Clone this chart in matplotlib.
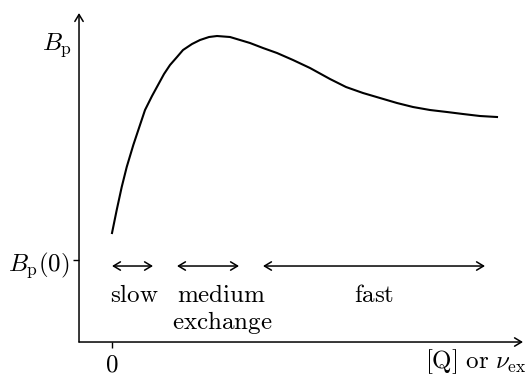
import numpy as np
import matplotlib
matplotlib.use("Agg")
import matplotlib.pyplot as plt

plt.rcParams['mathtext.fontset'] = 'cm'
plt.rcParams['font.family'] = 'serif'
plt.rcParams['font.serif'] = ['DejaVu Serif']

# curve (x: exchange rate, y: Bp)
curve_x = [0.00, 0.047, 0.097, 0.147, 0.213, 0.263, 0.33, 0.40, 0.46, 0.52, 0.58, 0.65,
           0.71, 0.80, 0.88, 0.97, 1.05, 1.18, 1.28, 1.38, 1.51, 1.65, 1.81, 1.98,
           2.18, 2.34, 2.51, 2.68, 2.85, 3.01, 3.18, 3.35, 3.51, 3.68, 3.85]
curve_y = [0.27, 0.50, 0.73, 0.93, 1.15, 1.30, 1.50, 1.64, 1.75, 1.86, 1.95, 2.03,
           2.10, 2.16, 2.20, 2.23, 2.24, 2.23, 2.20, 2.17, 2.12, 2.07, 2.00, 1.92,
           1.81, 1.73, 1.67, 1.62, 1.57, 1.53, 1.50, 1.48, 1.46, 1.44, 1.43]

# exchange regimes: (start, end, label, label centre)
regimes = [
    (0.00, 0.41, r'$\mathrm{slow}$', 0.22),
    (0.65, 1.27, r'$\mathrm{medium}$', 1.10),
    (1.51, 3.73, r'$\mathrm{fast}$', 2.62),
]

fig = plt.figure(figsize=(5.25, 3.77), dpi=100)
ax = fig.add_axes([0.1505, 0.0928, 0.8457, 0.8727])
ax.set_xlim(-0.33, 4.11)
ax.set_ylim(-0.82, 2.47)

ax.plot(curve_x, curve_y, color='black', lw=1.5, solid_joinstyle='round')

for spine in ax.spines.values():
    spine.set_visible(False)

# axis arrows
ax.annotate('', xy=(0, 1), xytext=(0, 0), xycoords='axes fraction',
            arrowprops=dict(arrowstyle='->,head_length=0.5,head_width=0.3',
                            lw=1.1, color='black', shrinkA=0, shrinkB=0))
ax.annotate('', xy=(1, 0), xytext=(0, 0), xycoords='axes fraction',
            arrowprops=dict(arrowstyle='->,head_length=0.5,head_width=0.3',
                            lw=1.1, color='black', shrinkA=0, shrinkB=0))

ax.set_xticks([0])
ax.set_xticklabels([r'$0$'], fontsize=18)
ax.set_yticks([0])
ax.set_yticklabels([r'$B_\mathrm{p}(0)$'], fontsize=18)
ax.tick_params(axis='both', direction='out', length=4, width=1.0)
ax.tick_params(axis='x', pad=4)
ax.tick_params(axis='y', pad=3)

# regime arrows and labels
for start, end, label, xc in regimes:
    ax.annotate('', xy=(end, -0.06), xytext=(start, -0.06),
                arrowprops=dict(arrowstyle='<->,head_length=0.5,head_width=0.3',
                                lw=1.1, color='black', shrinkA=0, shrinkB=0))
    ax.text(xc, -0.35, label, fontsize=18, ha='center', va='center')
ax.text(1.10, -0.62, r'$\mathrm{exchange}$', fontsize=18, ha='center', va='center')

ax.text(-0.70, 2.15, r'$B_\mathrm{p}$', fontsize=18, ha='left', va='center')
ax.text(3.13, -1.02, r'$[\mathrm{Q}]\ \mathrm{or}\ \nu_\mathrm{ex}$', fontsize=18,
        ha='left', va='center', clip_on=False)

fig.savefig('out.png', dpi=100)
